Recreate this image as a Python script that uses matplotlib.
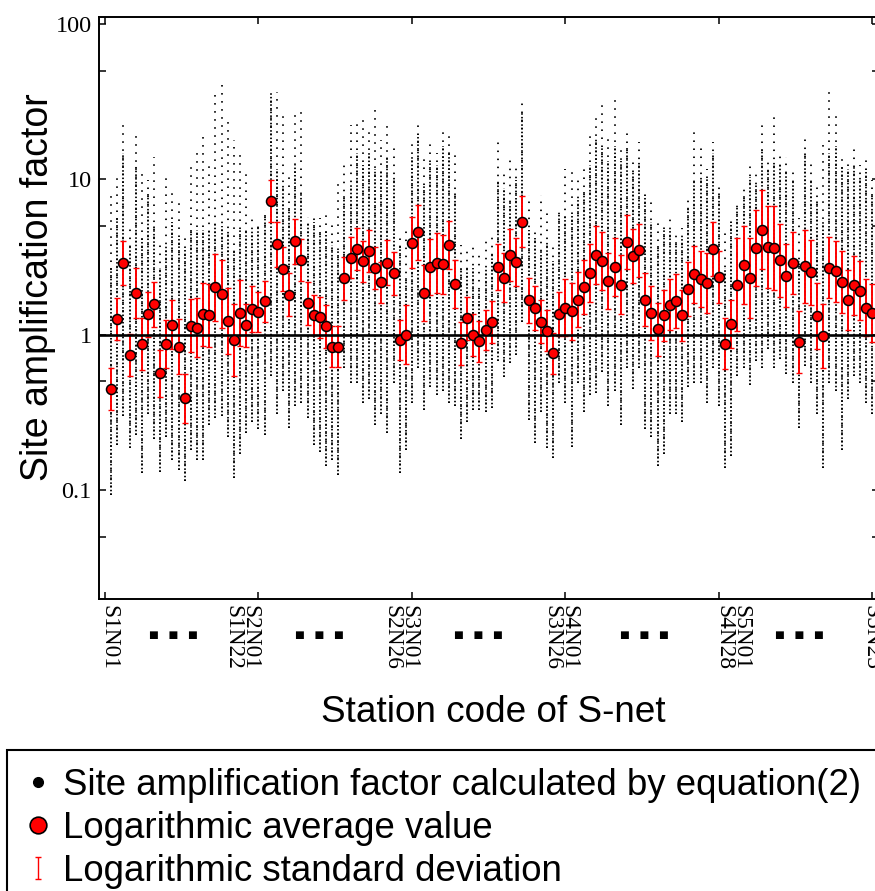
import numpy as np
import matplotlib
matplotlib.use("Agg")
import matplotlib.pyplot as plt
import matplotlib.transforms as mtransforms
from matplotlib.lines import Line2D
from matplotlib.patches import Rectangle
from matplotlib.path import Path
from matplotlib.ticker import FixedLocator, NullFormatter
from matplotlib.font_manager import FontProperties

# ---------------- data ----------------
segment_names = ["S1", "S2", "S3", "S4", "S5"]
segment_sizes = [22, 26, 26, 28, 23]

# logarithmic average of the site amplification factor per station
log_mean = [
    0.446, 1.26, 2.89, 0.739, 1.85, 0.866, 1.35, 1.57, 0.563, 0.871,
    1.16, 0.837, 0.388, 1.14, 1.11, 1.35, 1.33, 2.01, 1.83, 1.22,
    0.924, 1.37, 1.15, 1.46, 1.39, 1.64, 7.25, 3.81, 2.65, 1.81,
    3.98, 3.02, 1.59, 1.34, 1.29, 1.13, 0.837, 0.837, 2.30, 3.12,
    3.55, 2.97, 3.45, 2.67, 2.17, 2.91, 2.48, 0.924, 1.00, 3.90,
    4.55, 1.85, 2.72, 2.89, 2.84, 3.77, 2.12, 0.879, 1.27, 0.995,
    0.906, 1.07, 1.21, 2.72, 2.32, 3.25, 2.93, 5.33, 1.66, 1.49,
    1.21, 1.06, 0.758, 1.35, 1.49, 1.41, 1.67, 2.02, 2.50, 3.25,
    2.97, 2.21, 2.72, 2.10, 3.94, 3.20, 3.48, 1.68, 1.38, 1.08,
    1.33, 1.56, 1.64, 1.33, 1.97, 2.44, 2.28, 2.15, 3.57, 2.34,
    0.871, 1.17, 2.10, 2.79, 2.30, 3.59, 4.74, 3.66, 3.62, 3.00,
    2.39, 2.90, 0.897, 2.75, 2.51, 1.31, 0.976, 2.69, 2.56, 2.19,
    1.67, 2.08, 1.91, 1.49, 1.38,
]

# logarithmic standard deviation (log10 units)
log_sd = [
    0.134, 0.135, 0.143, 0.135, 0.159, 0.167, 0.145, 0.145, 0.151, 0.156,
    0.159, 0.176, 0.159, 0.169, 0.187, 0.202, 0.204, 0.215, 0.220, 0.212,
    0.232, 0.212, 0.138, 0.147, 0.129, 0.132, 0.138, 0.147, 0.142, 0.140,
    0.145, 0.137, 0.137, 0.129, 0.131, 0.140, 0.134, 0.133, 0.140, 0.132,
    0.137, 0.132, 0.135, 0.135, 0.132, 0.142, 0.137, 0.131, 0.188, 0.165,
    0.175, 0.183, 0.180, 0.194, 0.190, 0.157, 0.153, 0.140, 0.138, 0.135,
    0.132, 0.131, 0.135, 0.148, 0.158, 0.168, 0.154, 0.163, 0.146, 0.142,
    0.137, 0.131, 0.133, 0.142, 0.185, 0.183, 0.177, 0.174, 0.186, 0.188,
    0.188, 0.183, 0.188, 0.190, 0.172, 0.175, 0.170, 0.170, 0.172, 0.172,
    0.163, 0.163, 0.175, 0.166, 0.172, 0.183, 0.183, 0.194, 0.175, 0.167,
    0.165, 0.156, 0.299, 0.252, 0.258, 0.245, 0.254, 0.263, 0.272, 0.237,
    0.204, 0.201, 0.202, 0.234, 0.210, 0.213, 0.208, 0.196, 0.197, 0.199,
    0.194, 0.190, 0.190, 0.183, 0.188,
]

# extent of the individual site amplification factors (dots) per station
dot_top = [
    8.1, 10.8, 22.5, 5.0, 20, 11.1, 9.9, 13.9, 3.9, 10.8,
    8.8, 7.2, 4.6, 12.4, 14.7, 20.6, 13.1, 36.5, 40.9, 23.8,
    17.9, 15.1, 10.8, 5.9, 5.1, 6.3, 39, 36.5, 26, 10.4,
    27.5, 27.5, 5.75, 5.6, 5.6, 6.3, 5.3, 9.9, 12.4, 22.5,
    23.8, 26, 20.6, 29, 17.9, 22.5, 16, 4.3, 5.0, 17.9,
    23.8, 13.9, 17.9, 14.7, 20.6, 19.5, 15.6, 3.8, 3.5, 3.8,
    3.5, 4.2, 4.5, 17.4, 11.7, 13.9, 12.4, 33.5, 7.9, 4.7,
    7.9, 6.1, 3.8, 6.4, 11.7, 11.1, 10.4, 12, 20, 26.4,
    31.7, 18.4, 35.5, 16.9, 20.6, 13.9, 17.4, 8.3, 7.6, 5.75,
    5.4, 5.75, 4.5, 4.85, 7.6, 21.9, 16.5, 11.7, 17.4, 9.3,
    4.7, 5.9, 7.4, 9.3, 13.1, 11.7, 22.5, 13.1, 25.2, 15.1,
    13.9, 11.4, 5.6, 19.5, 13.5, 9.3, 17.9, 38.2, 26.7, 14.7,
    13.1, 16.9, 12.4, 13.9, 9.9,
]
dot_core_top = [
    2.67, 5.6, 14.7, 3.8, 12.4, 4.2, 8.3, 5.0, 2.67, 3.8,
    5.3, 4.2, 3.5, 4.7, 4.7, 4.7, 4.7, 5.3, 5.0, 4.7,
    3.5, 4.7, 4.7, 4.7, 5.0, 5.9, 34.5, 11.7, 9.3, 6.6,
    12.4, 8.3, 5.3, 5.3, 4.7, 4.7, 3.8, 3.5, 7.9, 9.3,
    14.7, 12.4, 14.7, 11.7, 11.1, 13.9, 10.4, 3.8, 2.38, 13.9,
    19.5, 9.3, 13.1, 12.4, 16.5, 14.7, 8.3, 2.67, 2.67, 2.67,
    2.0, 2.67, 3.35, 9.9, 8.8, 7.4, 9.9, 27.5, 4.7, 4.2,
    3.5, 3.97, 2.99, 5.9, 5.9, 5.9, 7.4, 8.3, 12.4, 18.4,
    16.5, 13.1, 16.5, 13.1, 16.5, 11.1, 13.1, 7.9, 5.3, 3.8,
    4.7, 4.7, 3.97, 4.2, 6.6, 9.9, 10.4, 10.4, 14.7, 8.3,
    2.67, 5.3, 6.6, 7.9, 10.4, 9.3, 15.6, 11.7, 13.1, 12.4,
    11.1, 9.9, 2.99, 14.7, 9.9, 7.4, 5.3, 14.7, 16.5, 12.4,
    11.7, 12.4, 10.4, 11.7, 8.3,
]
dot_bottom = [
    0.093, 0.195, 0.30, 0.185, 0.225, 0.128, 0.31, 0.213, 0.131, 0.219,
    0.156, 0.135, 0.114, 0.18, 0.156, 0.156, 0.26, 0.29, 0.30, 0.219,
    0.12, 0.17, 0.232, 0.275, 0.245, 0.225, 0.54, 0.31, 0.43, 0.25,
    0.345, 0.365, 0.29, 0.195, 0.174, 0.143, 0.156, 0.124, 0.61, 0.485,
    0.485, 0.365, 0.386, 0.26, 0.31, 0.232, 0.485, 0.128, 0.18, 0.365,
    0.61, 0.326, 0.458, 0.409, 0.43, 0.365, 0.345, 0.213, 0.275, 0.326,
    0.326, 0.317, 0.335, 0.68, 0.53, 0.66, 0.74, 1.2, 0.28, 0.20,
    0.317, 0.185, 0.16, 0.485, 0.365, 0.19, 0.485, 0.317, 0.409, 0.42,
    0.575, 0.345, 0.43, 0.26, 0.61, 0.445, 0.61, 0.245, 0.219, 0.143,
    0.17, 0.31, 0.31, 0.275, 0.458, 0.485, 0.485, 0.365, 0.61, 0.345,
    0.139, 0.165, 0.54, 0.61, 0.472, 0.68, 0.61, 0.81, 0.61, 0.70,
    0.56, 0.485, 0.25, 0.63, 0.485, 0.31, 0.139, 0.485, 0.43, 0.18,
    0.386, 0.54, 0.485, 0.365, 0.31,
]

y_ticks = [0.1, 1, 10, 100]
y_tick_labels = ["0.1", "1", "10", "100"]
y_minor_ticks = [0.05, 0.5, 5, 50]
x_ticks = [0, 25, 50, 75, 100, 125]

legend_labels = [
    "Site amplification factor calculated by equation(2)",
    "Logarithmic average value",
    "Logarithmic standard deviation",
]

# ---------------- derived ----------------
n_st = sum(segment_sizes)
stations = np.arange(1, n_st + 1)
mean = np.array(log_mean)
sd = np.array(log_sd)
lower = mean / 10 ** sd
upper = mean * 10 ** sd

bounds = np.cumsum(segment_sizes)
label_pos = [1.0] + [b + 0.5 for b in bounds[:-1]] + [float(n_st)]
label_txt = ["%sN01" % segment_names[0]]
for k in range(1, len(segment_names)):
    label_txt.append("%sN01\n%sN%02d" % (segment_names[k], segment_names[k - 1],
                                        segment_sizes[k - 1]))
label_txt.append("%sN%02d" % (segment_names[-1], segment_sizes[-1]))

# ---------------- figure ----------------
W, H = 875, 891
fig = plt.figure(figsize=(W / 100, H / 100), dpi=100)
ax_l, ax_r, ax_t, ax_b = 98.8, 878.6, 17, 599
ax = fig.add_axes([ax_l / W, 1 - ax_b / H, (ax_r - ax_l) / W, (ax_b - ax_t) / H])

# clouds of individual values (dots)
ax.vlines(stations, dot_bottom, dot_top, colors="black", linewidth=1.3,
          linestyles=(0, (0.85, 3.6)), zorder=1)
ax.vlines(stations, dot_bottom, dot_core_top, colors="black", linewidth=1.3,
          linestyles=(0, (0.85, 1.2)), zorder=1)

ax.errorbar(stations, mean, yerr=[mean - lower, upper - mean], fmt="none",
            ecolor="#ff0000", elinewidth=1.4, capsize=2.2, capthick=1.0, zorder=3)
ax.axhline(1, color="black", linewidth=1.9, zorder=4)
ax.plot(stations, mean, linestyle="none", marker="o", markersize=7.2,
        markerfacecolor="#ff0000", markeredgecolor="black", markeredgewidth=1.1,
        zorder=5)

ax.set_yscale("log")
ax.set_ylim(0.0198, 111)
ax.set_xlim(-1, 126)
ax.set_yticks(y_ticks)
ax.set_yticklabels(y_tick_labels, fontfamily="Liberation Serif", fontsize=17.5)
ax.yaxis.set_minor_locator(FixedLocator(y_minor_ticks))
ax.yaxis.set_minor_formatter(NullFormatter())
ax.set_xticks(x_ticks)
ax.set_xticklabels([])
ax.xaxis.set_minor_locator(FixedLocator([]))
ax.tick_params(which="both", direction="in", length=5, width=1.1,
               top=True, right=True, pad=5)
for s in ax.spines.values():
    s.set_linewidth(1.4)

# station labels under the axis
off = mtransforms.ScaledTranslation(-2 / 100, -6 / 100, fig.dpi_scale_trans)
btrans = mtransforms.blended_transform_factory(ax.transData, ax.transAxes)
for p, t in zip(label_pos, label_txt):
    ax.text(p, 0, t, transform=btrans + off, rotation=270, ha="center", va="top",
            fontsize=16.8, fontfamily="Liberation Serif", linespacing=0.74,
            clip_on=False)
dots_y = (ax_b - 635) / (ax_b - ax_t)
off2 = mtransforms.ScaledTranslation(-4 / 100, 0, fig.dpi_scale_trans)
for a, b in zip(label_pos[:-1], label_pos[1:]):
    ax.text((a + b) / 2, dots_y, "■   ■   ■", transform=btrans + off2,
            ha="center", va="center", fontsize=7.5, fontfamily="DejaVu Sans",
            clip_on=False)

# axis titles
fig.text(38 / W, 1 - 287 / H, "Site amplification factor", rotation=90,
         ha="center", va="center", fontsize=27, fontfamily="Liberation Sans")
fig.text(493 / W, 1 - 713 / H, "Station code of S-net", ha="center", va="center",
         fontsize=26.6, fontfamily="Liberation Sans")

# legend box (extends past the figure edge)
fig.add_artist(Rectangle((6.5 / W, -0.2), 1.2, 0.2 + 1 - 750 / H,
                         transform=fig.transFigure, fill=False,
                         edgecolor="black", linewidth=1.5))
ibar = Path([(-0.3, -1), (0.3, -1), (0, -1), (0, 1), (-0.3, 1), (0.3, 1)],
            [Path.MOVETO, Path.LINETO, Path.MOVETO, Path.LINETO, Path.MOVETO,
             Path.LINETO])
handles = [
    Line2D([], [], linestyle="none", marker="o", color="black", markersize=7),
    Line2D([], [], linestyle="none", marker="o", markerfacecolor="#ff0000",
           markeredgecolor="black", markeredgewidth=1.2, markersize=12),
    Line2D([], [], linestyle="none", marker=ibar, markerfacecolor="none",
           markeredgecolor="#ff0000", markeredgewidth=1.0, markersize=16),
]
fig.legend(handles, legend_labels, loc="upper left",
           bbox_to_anchor=(23 / W, 1 - 768 / H), bbox_transform=fig.transFigure,
           frameon=False, prop=FontProperties(family="Liberation Sans", size=26.4),
           handlelength=0.8, handletextpad=0.3, labelspacing=0.22, borderpad=0,
           borderaxespad=0)

fig.savefig("out.png", dpi=100)
